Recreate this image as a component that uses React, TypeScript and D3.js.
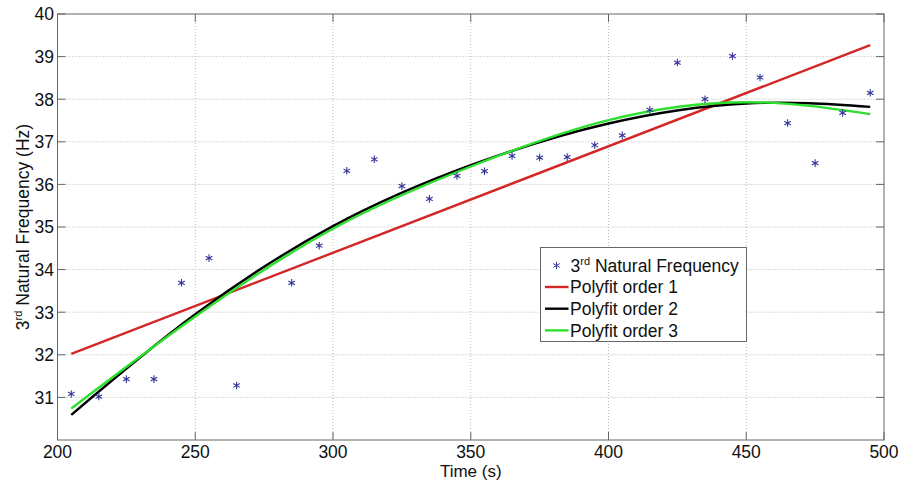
import React from 'react'
import * as d3 from 'd3'

// measured natural frequency (Hz) vs time (s)
const times = [205, 215, 225, 235, 245, 255, 265, 285, 295, 305, 315, 325, 335, 345, 355,
  365, 375, 385, 395, 405, 415, 425, 435, 445, 455, 465, 475, 485, 495]
const freqs = [31.08, 31.02, 31.43, 31.43, 33.69, 34.27, 31.28, 33.69, 34.56, 36.32, 36.59,
  35.96, 35.66, 36.2, 36.31, 36.67, 36.63, 36.64, 36.92, 37.15, 37.75, 38.86, 38.0, 39.01,
  38.51, 37.44, 36.5, 37.68, 38.15]

// fitted curves
const fit1X = [205, 495]
const fit1Y = [32.02, 39.27]
const fitX = [205, 250, 300, 350, 400, 450, 495]
const fit2Y = [30.59, 32.95, 35.02, 36.45, 37.43, 37.9, 37.82]
const fit3Y = [30.74, 32.9, 34.96, 36.42, 37.51, 37.93, 37.65]

const xTicks = [200, 250, 300, 350, 400, 450, 500]
const yTicks = [31, 32, 33, 34, 35, 36, 37, 38, 39, 40]

const W = 900
const H = 481
const left = 57.5
const right = 884
const top = 14
const bottom = 440
const font = 'Liberation Sans, Arial, sans-serif'
const fs = 17.5

const App = () => {
  const x = d3.scaleLinear().domain([200, 500]).range([left, right])
  const y = d3.scaleLinear().domain([30, 40]).range([bottom, top])

  const line = d3.line<[number, number]>()
    .x(d => x(d[0]))
    .y(d => y(d[1]))
    .curve(d3.curveNatural)

  const path1 = line(fit1X.map((t, i) => [t, fit1Y[i]]))
  const path2 = line(fitX.map((t, i) => [t, fit2Y[i]]))
  const path3 = line(fitX.map((t, i) => [t, fit3Y[i]]))
  const star = d3.symbol(d3.symbolAsterisk, 40)()

  const axisColor = '#666'
  const gridColor = '#b8b8b8'
  const markColor = '#35359a'

  const legendX = 540.5
  const legendY = 247.5
  const rows = [
    {label: 'Polyfit order 1', color: '#d42626'},
    {label: 'Polyfit order 2', color: '#000'},
    {label: 'Polyfit order 3', color: '#2ee02e'},
  ]

  return (
    <svg width={W} height={H} style={{position: 'absolute', left: 0, top: 0, background: '#fff'}}
      fontFamily={font}>
      <rect x={0} y={0} width={W} height={H} fill="#fff"/>
      {xTicks.slice(1, -1).map(t => (
        <line key={'gx' + t} x1={x(t)} x2={x(t)} y1={top} y2={bottom}
          stroke={gridColor} strokeDasharray="1,2"/>
      ))}
      {yTicks.slice(0, -1).map(t => (
        <line key={'gy' + t} x1={left} x2={right} y1={y(t)} y2={y(t)}
          stroke={gridColor} strokeDasharray="1,2"/>
      ))}
      <path d={path1 || ''} fill="none" stroke={rows[0].color} strokeWidth={2.4}/>
      <path d={path2 || ''} fill="none" stroke={rows[1].color} strokeWidth={2.4}/>
      <path d={path3 || ''} fill="none" stroke={rows[2].color} strokeWidth={2.4}/>
      {times.map((t, i) => (
        <path key={'p' + i} d={star || ''} transform={`translate(${x(t)},${y(freqs[i])})`}
          fill="none" stroke={markColor} strokeWidth={1.1}/>
      ))}
      <rect x={left} y={top} width={right - left} height={bottom - top}
        fill="none" stroke={axisColor} strokeWidth={1}/>
      {xTicks.map(t => (
        <g key={'tx' + t}>
          <line x1={x(t)} x2={x(t)} y1={bottom} y2={bottom - 8} stroke={axisColor}/>
          <line x1={x(t)} x2={x(t)} y1={top} y2={top + 8} stroke={axisColor}/>
          <text x={x(t)} y={458} textAnchor="middle" fontSize={fs} fill="#111">{t}</text>
        </g>
      ))}
      {yTicks.map(t => (
        <g key={'ty' + t}>
          <line x1={left} x2={left + 8} y1={y(t)} y2={y(t)} stroke={axisColor}/>
          <line x1={right} x2={right - 8} y1={y(t)} y2={y(t)} stroke={axisColor}/>
          <text x={54} y={y(t) + 6.3} textAnchor="end" fontSize={fs} fill="#111">{t}</text>
        </g>
      ))}
      <text x={x(350)} y={477} textAnchor="middle" fontSize={17} fill="#111">Time (s)</text>
      <text transform={`translate(29,${(top + bottom) / 2}) rotate(-90)`} textAnchor="middle"
        fontSize={fs} fill="#111">
        3<tspan fontSize={11} dy={-7}>rd</tspan><tspan dy={7}> Natural Frequency (Hz)</tspan>
      </text>
      <g transform={`translate(${legendX},${legendY})`}>
        <rect x={0} y={0} width={206} height={94} fill="#fff" stroke={axisColor}/>
        <path d={star || ''} transform="translate(16,18)" fill="none" stroke={markColor}/>
        <text x={30} y={24.5} fontSize={fs} fill="#111">
          3<tspan fontSize={11} dy={-7}>rd</tspan><tspan dy={7}> Natural Frequency</tspan>
        </text>
        {rows.map((r, i) => (
          <g key={r.label} transform={`translate(0,${39.5 + i * 21.7})`}>
            <line x1={4.5} x2={28} y1={0} y2={0} stroke={r.color} strokeWidth={2.4}/>
            <text x={29.5} y={6.3} fontSize={fs} fill="#111">{r.label}</text>
          </g>
        ))}
      </g>
    </svg>
  )
}

export default App
